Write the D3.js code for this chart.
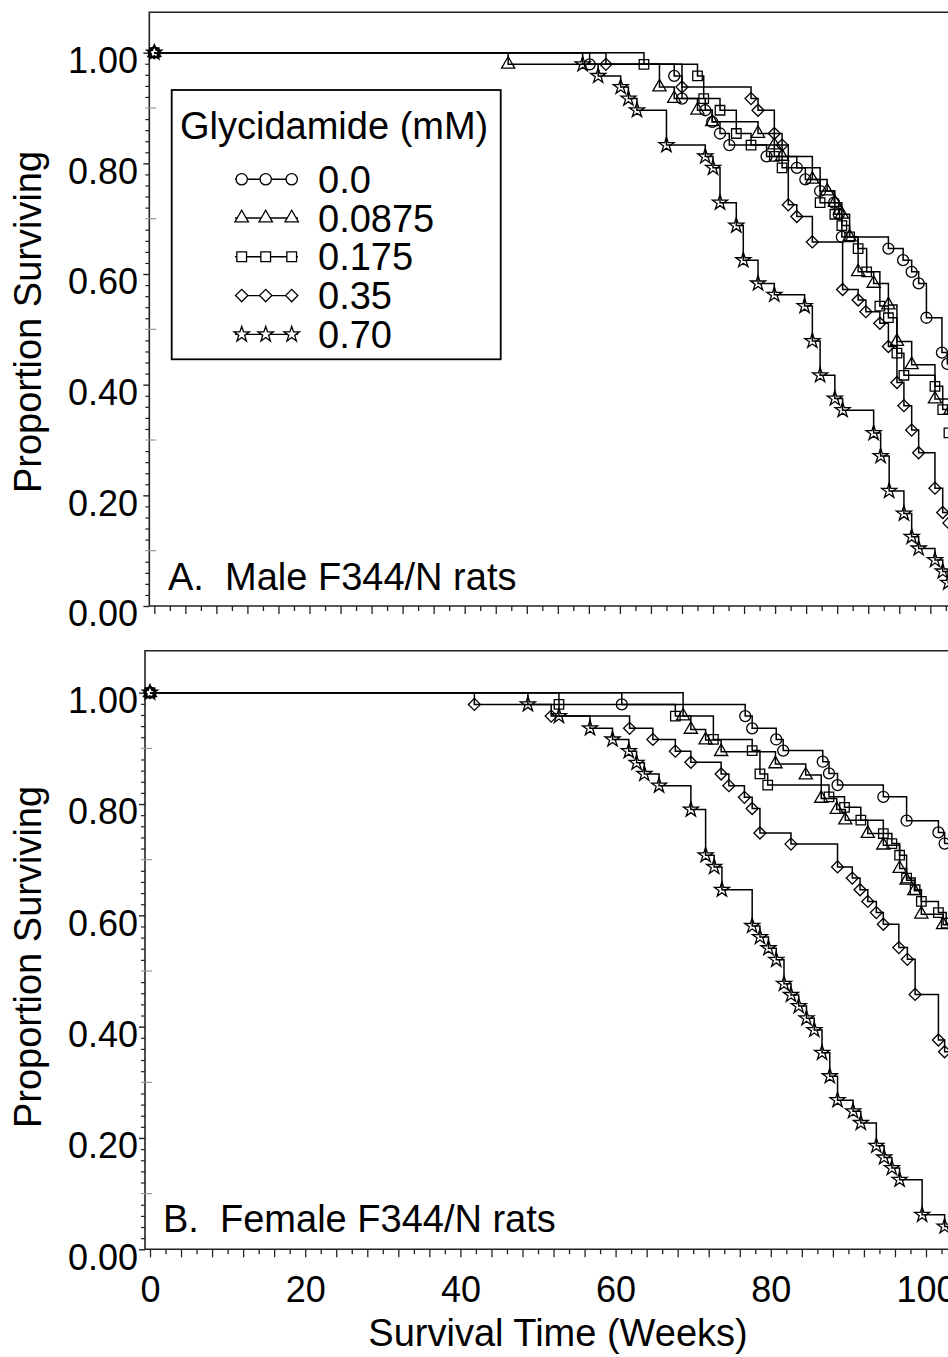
<!DOCTYPE html>
<html>
<head>
<meta charset="utf-8">
<script src="https://cdn.jsdelivr.net/npm/d3@7"></script>
<style>
  body { margin: 0; background: #fff; }
  svg { display: block; }
</style>
</head>
<body>
<div id="chart"></div>
<script>
// Kaplan-Meier survival, glycidamide in drinking water
// each series: [week, proportion surviving] at every death step

const doses = ["0.0", "0.0875", "0.175", "0.35", "0.70"];
const symbols = ["circle", "triangle", "square", "diamond", "star"];

const male00 = [[0,1],[56.1,0.979],[67.0,0.958],[68.0,0.917],[71.0,0.896],[71.9,0.875],[72.9,0.854],[74.1,0.833],[78.9,0.8125],[82.8,0.792],[83.9,0.771],[85.8,0.75],[87.6,0.729],[88.2,0.708],[88.6,0.667],[94.6,0.646],[96.5,0.625],[97.6,0.604],[98.5,0.583],[99.5,0.521],[101.5,0.458],[102.2,0.4375]];
const male0875 = [[0,1],[45.6,0.979],[65.1,0.938],[67.0,0.917],[70.0,0.896],[71.9,0.875],[77.8,0.854],[79.9,0.833],[80.9,0.8125],[84.8,0.771],[86.7,0.75],[87.7,0.729],[88.6,0.708],[89.6,0.667],[90.7,0.604],[92.7,0.583],[94.6,0.544],[95.7,0.478],[97.6,0.436],[100.6,0.374],[102.6,0.354]];
const male175 = [[0,1],[63.1,0.979],[70.0,0.958],[70.8,0.917],[72.9,0.896],[75.0,0.854],[76.9,0.833],[79.9,0.8125],[80.9,0.792],[85.8,0.729],[87.7,0.708],[88.6,0.6875],[89.6,0.667],[90.7,0.646],[91.8,0.604],[93.5,0.542],[94.6,0.521],[95.7,0.457],[96.6,0.417],[100.6,0.397],[101.6,0.355],[102.4,0.313]];
const male35 = [[0,1],[58.2,0.979],[68.0,0.938],[76.9,0.917],[77.8,0.896],[79.9,0.854],[80.9,0.833],[81.7,0.725],[82.8,0.704],[84.8,0.658],[88.7,0.572],[90.7,0.553],[91.7,0.532],[93.5,0.511],[94.6,0.469],[95.7,0.404],[96.6,0.362],[97.6,0.318],[98.5,0.277],[100.6,0.213],[101.6,0.169],[102.4,0.15]];
const male70 = [[0,1],[55.2,0.979],[57.2,0.958],[60.1,0.938],[61.1,0.917],[62.2,0.896],[66.0,0.833],[71.0,0.8125],[72.0,0.792],[72.9,0.729],[75.0,0.6875],[75.9,0.625],[77.8,0.583],[79.9,0.5625],[83.8,0.542],[84.8,0.479],[85.8,0.417],[87.7,0.375],[88.7,0.354],[92.7,0.3125],[93.6,0.271],[94.7,0.208],[96.6,0.167],[97.6,0.125],[98.5,0.104],[100.6,0.083],[101.6,0.0625],[102.3,0.042]];

const female00 = [[0,1],[60.8,0.979],[76.7,0.958],[77.6,0.936],[80.7,0.916],[81.6,0.896],[86.7,0.876],[87.5,0.855],[88.6,0.834],[94.5,0.813],[97.5,0.770],[101.6,0.749],[102.4,0.729]];
const female0875 = [[0,1],[68.7,0.958],[69.7,0.934],[71.6,0.915],[73.6,0.894],[80.6,0.872],[84.5,0.852],[86.5,0.81],[88.5,0.79],[89.6,0.771],[92.5,0.747],[94.5,0.726],[96.6,0.684],[97.5,0.663],[98.5,0.644],[99.4,0.602],[102.2,0.583]];
const female175 = [[0,1],[52.7,0.979],[67.7,0.958],[72.6,0.916],[77.6,0.896],[78.6,0.854],[79.6,0.834],[87.5,0.813],[89.5,0.794],[91.6,0.771],[94.5,0.747],[95.6,0.729],[96.6,0.708],[97.5,0.667],[98.6,0.646],[99.4,0.625],[101.6,0.605],[102.6,0.586]];
const female35 = [[0,1],[41.8,0.979],[51.7,0.958],[61.8,0.936],[64.8,0.916],[67.7,0.895],[69.7,0.875],[73.6,0.854],[74.6,0.833],[76.6,0.812],[77.6,0.792],[78.6,0.748],[82.6,0.728],[88.6,0.687],[90.5,0.667],[91.5,0.646],[92.5,0.625],[93.6,0.605],[94.5,0.584],[96.5,0.542],[97.6,0.521],[98.6,0.458],[101.6,0.376],[102.4,0.355]];
const female70 = [[0,1],[48.7,0.979],[52.7,0.958],[56.7,0.936],[59.6,0.916],[61.7,0.895],[62.7,0.874],[63.7,0.854],[65.6,0.833],[69.7,0.79],[71.6,0.708],[72.7,0.687],[73.7,0.646],[77.6,0.581],[78.6,0.561],[79.7,0.541],[80.7,0.52],[81.7,0.477],[82.6,0.457],[83.6,0.437],[84.6,0.415],[85.6,0.394],[86.6,0.353],[87.6,0.311],[88.6,0.268],[90.6,0.248],[91.6,0.227],[93.6,0.186],[94.6,0.165],[95.6,0.146],[96.6,0.125],[99.5,0.062],[102.4,0.041]];

const yMajor = [0, 0.2, 0.4, 0.6, 0.8, 1.0];
const xLabels = [0, 20, 40, 60, 80, 100];
const studyEnd = 106;

const width = 948;
const height = 1357;
const font = '"Liberation Sans", Arial, Helvetica, sans-serif';
const pxPerWeek = 7.76;

const svg = d3.select('#chart').append('svg')
    .attr('width', width)
    .attr('height', height)
    .style('font-family', font);

const markerPath = (type, size) => {
  const s = size || 1;
  if (type === 'circle') return d3.symbol().type(d3.symbolCircle).size(95 * s)();
  if (type === 'triangle') return d3.symbol().type(d3.symbolTriangle).size(75 * s)();
  if (type === 'square') return d3.symbol().type(d3.symbolSquare).size(90 * s)();
  if (type === 'diamond') return d3.symbol().type(d3.symbolSquare).size(72 * s)();
  return d3.symbol().type(d3.symbolStar).size(70 * s)();
};
const markerRot = type => type === 'diamond' ? ' rotate(45)' : '';

const drawPanel = (cfg) => {
  const g = svg.append('g');
  const x = d3.scaleLinear().domain([0, 110]).range([cfg.x0, cfg.x0 + pxPerWeek * 110]);
  const y = d3.scaleLinear().domain([0, 1]).range([cfg.bottom, cfg.y1]);

  // frame
  g.append('path')
    .attr('d', `M${cfg.left},${cfg.bottom}V${cfg.top}H${width + 10}M${cfg.left},${cfg.bottom}H${width + 10}`)
    .attr('fill', 'none')
    .attr('stroke', '#222')
    .attr('stroke-width', 1.6);

  // y axis: major, minor and tenths
  const yAxis = g.append('g')
    .attr('transform', `translate(${cfg.left},0)`)
    .call(d3.axisLeft(y).tickValues(yMajor).tickSize(6).tickSizeOuter(0).tickFormat(d3.format('.2f')))
    .call(a => a.select('.domain').remove());
  yAxis.selectAll('line').attr('stroke', '#222').attr('stroke-width', 1.4);
  yAxis.selectAll('text')
    .attr('x', 138 - cfg.left)
    .attr('dy', '0.55em')
    .attr('font-size', 36)
    .attr('font-family', font)
    .attr('fill', '#000');

  const minors = d3.range(0, 51).map(i => i / 50).filter(v => Math.round(v * 50) % 5 !== 0);
  g.append('g')
    .attr('transform', `translate(${cfg.left},0)`)
    .call(d3.axisLeft(y).tickValues(minors).tickSize(4).tickFormat(''))
    .call(a => a.select('.domain').remove())
    .selectAll('line').attr('stroke', '#222').attr('stroke-width', 1.2);

  const tenths = [0.1, 0.3, 0.5, 0.7, 0.9];
  g.append('g').selectAll('line')
    .data(tenths)
    .join('line')
    .attr('x1', cfg.left - 4).attr('x2', cfg.left + 7)
    .attr('y1', d => y(d)).attr('y2', d => y(d))
    .attr('stroke', '#999').attr('stroke-width', 1.2);

  // x axis ticks every 2 weeks, longer every 4
  const longT = d3.range(0, 112, 4);
  const shortT = d3.range(2, 112, 4);
  g.append('g')
    .attr('transform', `translate(0,${cfg.bottom})`)
    .call(d3.axisBottom(x).tickValues(longT).tickSize(8).tickSizeOuter(0).tickFormat(''))
    .call(a => a.select('.domain').remove())
    .selectAll('line').attr('stroke', '#222').attr('stroke-width', 1.3);
  g.append('g')
    .attr('transform', `translate(0,${cfg.bottom})`)
    .call(d3.axisBottom(x).tickValues(shortT).tickSize(5).tickSizeOuter(0).tickFormat(''))
    .call(a => a.select('.domain').remove())
    .selectAll('line').attr('stroke', '#222').attr('stroke-width', 1.3);

  if (cfg.xLabels) {
    g.append('g')
      .attr('transform', `translate(0,${cfg.bottom})`)
      .call(d3.axisBottom(x).tickValues(xLabels).tickSize(0).tickFormat(d3.format('d')))
      .call(a => a.select('.domain').remove())
      .selectAll('text')
      .attr('y', 52.5)
      .attr('dy', 0)
      .attr('font-size', 36)
      .attr('font-family', font)
      .attr('fill', '#000');
    g.append('text')
      .attr('x', 558).attr('y', 1346)
      .attr('text-anchor', 'middle')
      .attr('font-size', 38)
      .text('Survival Time (Weeks)');
  }

  // y title
  g.append('text')
    .attr('transform', `translate(41,${cfg.titleY}) rotate(-90)`)
    .attr('text-anchor', 'middle')
    .attr('font-size', 38)
    .text('Proportion Surviving');

  // panel label
  g.append('text')
    .attr('x', cfg.labelX).attr('y', cfg.labelY)
    .attr('font-size', 38)
    .style('white-space', 'pre')
    .text(cfg.label);

  // survival curves
  const plot = g.append('g');
  const line = d3.line().x(d => x(d[0])).y(d => y(d[1])).curve(d3.curveStepAfter);
  cfg.series.forEach((data, i) => {
    const pts = data.concat([[studyEnd, data[data.length - 1][1]]]);
    plot.append('path')
      .attr('d', line(pts))
      .attr('fill', 'none')
      .attr('stroke', '#000')
      .attr('stroke-width', 1.5);
    plot.append('g').selectAll('path')
      .data(data)
      .join('path')
      .attr('d', markerPath(symbols[i]))
      .attr('transform', d => `translate(${x(d[0])},${y(d[1])})${markerRot(symbols[i])}`)
      .attr('fill', 'none')
      .attr('stroke', '#000')
      .attr('stroke-width', 1.3);
  });

  return g;
};

drawPanel({
  left: 149.3, top: 12.3, bottom: 606, x0: 154.3, y1: 52.7,
  series: [male00, male0875, male175, male35, male70],
  label: 'A.  Male F344/N rats', labelX: 168, labelY: 590,
  titleY: 322, xLabels: false
});

drawPanel({
  left: 145, top: 650.7, bottom: 1249.3, x0: 150, y1: 692.7,
  series: [female00, female0875, female175, female35, female70],
  label: 'B.  Female F344/N rats', labelX: 163, labelY: 1232,
  titleY: 957, xLabels: true
});

// legend (panel A)
const legend = svg.append('g');
legend.append('rect')
  .attr('x', 171.7).attr('y', 90)
  .attr('width', 329).attr('height', 269.3)
  .attr('fill', '#fff')
  .attr('stroke', '#000')
  .attr('stroke-width', 1.8);
legend.append('text')
  .attr('x', 180).attr('y', 139)
  .attr('font-size', 38)
  .text('Glycidamide (mM)');

const legendRows = legend.selectAll('g.row')
  .data(doses)
  .join('g')
  .attr('class', 'row')
  .attr('transform', (d, i) => `translate(0,${192.7 + i * 38.8})`);
legendRows.append('line')
  .attr('x1', 235).attr('x2', 298)
  .attr('y1', -13.5).attr('y2', -13.5)
  .attr('stroke', '#000').attr('stroke-width', 1.4);
legendRows.each(function (d, i) {
  d3.select(this).selectAll('path')
    .data([241.7, 265.7, 291.7])
    .join('path')
    .attr('d', markerPath(symbols[i], 1.05))
    .attr('transform', px => `translate(${px},-13.5)${markerRot(symbols[i])}`)
    .attr('fill', '#fff')
    .attr('stroke', '#000')
    .attr('stroke-width', 1.3);
});
legendRows.append('text')
  .attr('x', 318).attr('y', 0)
  .attr('font-size', 38)
  .text(d => d);
</script>
</body>
</html>
